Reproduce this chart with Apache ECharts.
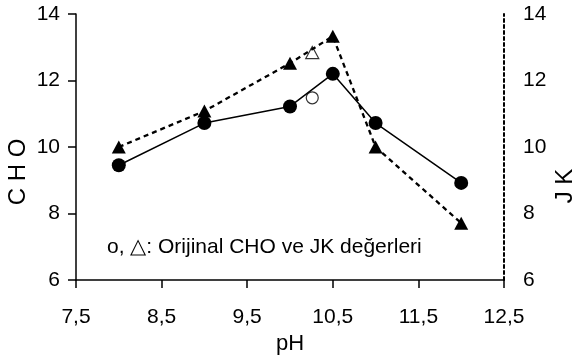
<!DOCTYPE html>
<html>
<head>
<meta charset="utf-8">
<script src="https://cdn.jsdelivr.net/npm/echarts@6/dist/echarts.min.js"></script>
<style>
  html, body { margin: 0; padding: 0; background: #fff; }
  #chart { width: 572px; height: 360px; }
</style>
</head>
<body>
<div id="chart"></div>
<script>
// pH values and measured series
const phValues = [8, 9, 10, 10.5, 11, 12];
const choValues = [9.45, 10.72, 11.22, 12.2, 10.72, 8.92];
const jkValues = [10.0, 11.08, 12.52, 13.33, 10.0, 7.71];
// original (unmodified) points
const choOriginal = [[10.26, 11.48]];
const jkOriginal = [[10.26, 12.84]];
// axis ticks
const xTicks = [7.5, 8.5, 9.5, 10.5, 11.5, 12.5];
const yTicks = [6, 8, 10, 12, 14];

const font = 'Liberation Sans, Arial, sans-serif';
const comma = (v) => String(v).replace('.', ',');

const chart = echarts.init(document.getElementById('chart'));

chart.setOption({
  backgroundColor: '#fff',
  animation: false,
  grid: { left: 76, right: 68, top: 14, bottom: 80 },
  xAxis: {
    type: 'value',
    min: xTicks[0],
    max: xTicks[xTicks.length - 1],
    name: 'pH',
    nameLocation: 'middle',
    nameGap: 53,
    nameTextStyle: { fontFamily: font, fontSize: 22, color: '#000' },
    axisLine: { lineStyle: { color: '#000', width: 1.5 } },
    axisTick: { customValues: xTicks, length: 8, lineStyle: { color: '#000', width: 1.5 } },
    axisLabel: {
      customValues: xTicks, formatter: comma, margin: 27,
      fontFamily: font, fontSize: 21, color: '#000'
    },
    splitLine: { show: false }
  },
  yAxis: [
    {
      type: 'value', min: yTicks[0], max: yTicks[yTicks.length - 1], interval: 2,
      position: 'left',
      axisLine: { show: true, lineStyle: { color: '#000', width: 1.5 } },
      axisTick: { show: true, length: 8, lineStyle: { color: '#000', width: 1.5 } },
      axisLabel: { margin: 16, fontFamily: font, fontSize: 21, color: '#000' },
      splitLine: { show: false }
    },
    {
      type: 'value', min: yTicks[0], max: yTicks[yTicks.length - 1], interval: 2,
      position: 'right',
      axisLine: { show: true, lineStyle: { color: '#000', width: 2, type: [3, 3] } },
      axisTick: { show: false },
      axisLabel: { margin: 19, fontFamily: font, fontSize: 21, color: '#000' },
      splitLine: { show: false }
    }
  ],
  graphic: [
    {
      type: 'text', x: 18, y: 172, rotation: Math.PI / 2,
      style: { text: 'C H O', font: '24px ' + font, fill: '#000', align: 'center', verticalAlign: 'middle' }
    },
    {
      type: 'text', x: 565, y: 186, rotation: Math.PI / 2,
      style: { text: 'J K', font: '24px ' + font, fill: '#000', align: 'center', verticalAlign: 'middle' }
    },
    {
      type: 'text', x: 107, y: 247,
      style: { text: 'o, △: Orijinal CHO ve JK değerleri', font: '21px ' + font, fill: '#000', align: 'left', verticalAlign: 'middle' }
    }
  ],
  series: [
    {
      name: 'CHO', type: 'line', yAxisIndex: 0,
      data: phValues.map((p, i) => [p, choValues[i]]),
      symbol: 'circle', symbolSize: 14,
      itemStyle: { color: '#000' },
      lineStyle: { color: '#000', width: 1.5 }
    },
    {
      name: 'JK', type: 'line', yAxisIndex: 1,
      data: phValues.map((p, i) => [p, jkValues[i]]),
      symbol: 'triangle', symbolSize: [14, 13],
      itemStyle: { color: '#000' },
      lineStyle: { color: '#000', width: 2.3, type: [5, 4] }
    },
    {
      name: 'CHO orijinal', type: 'scatter', yAxisIndex: 0,
      data: choOriginal,
      symbol: 'circle', symbolSize: 12,
      itemStyle: { color: '#fff', borderColor: '#000', borderWidth: 1.2 }
    },
    {
      name: 'JK orijinal', type: 'scatter', yAxisIndex: 1,
      data: jkOriginal,
      symbol: 'triangle', symbolSize: [13, 12],
      itemStyle: { color: '#fff', borderColor: '#000', borderWidth: 1.2 }
    }
  ]
});
</script>
</body>
</html>
